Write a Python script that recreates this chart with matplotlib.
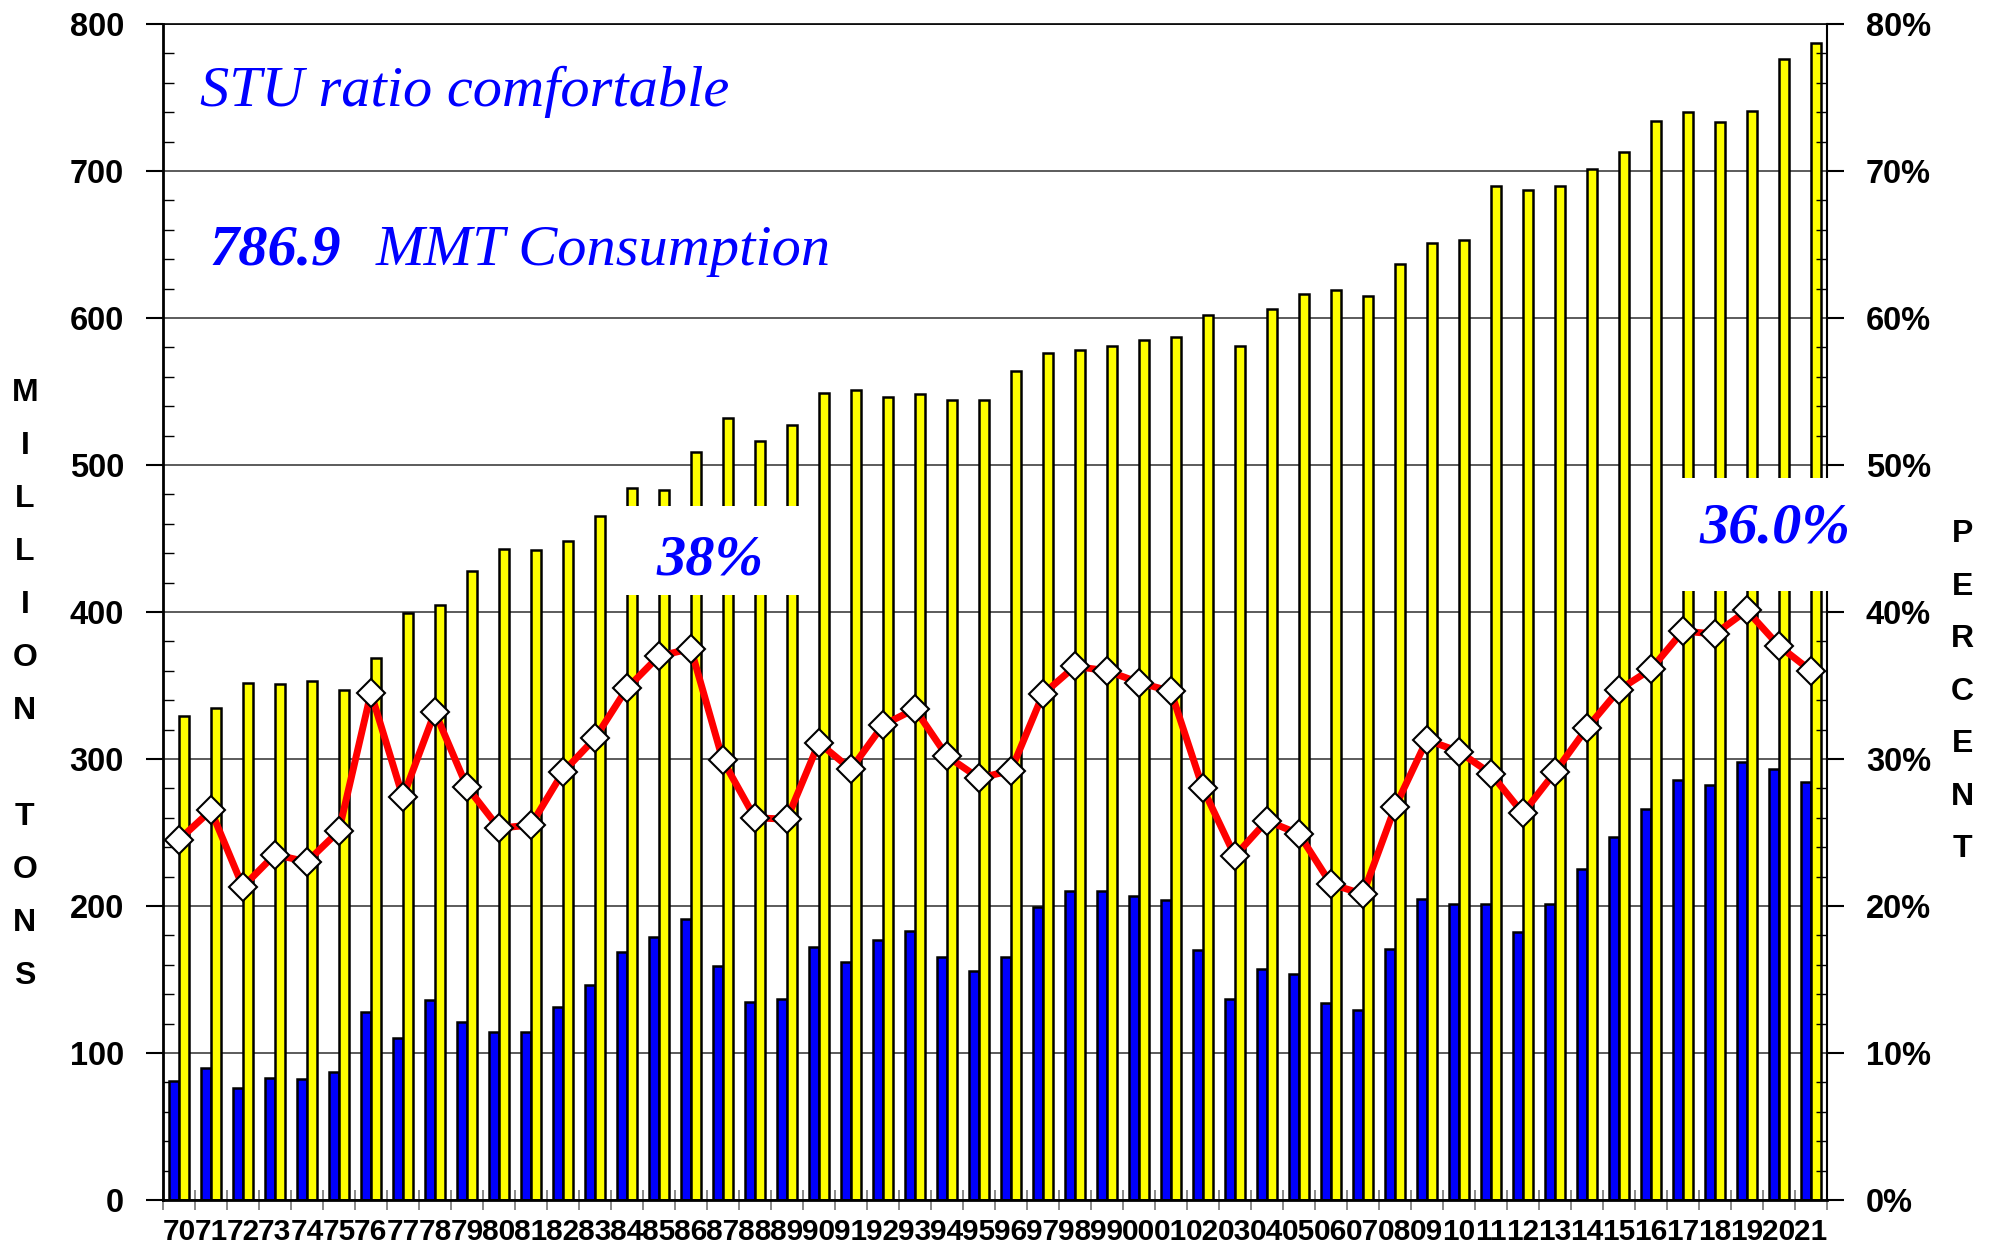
import numpy as np
import matplotlib
matplotlib.use('Agg')
import matplotlib.pyplot as plt
from matplotlib.patches import Rectangle
from matplotlib.ticker import MultipleLocator, FixedLocator, FuncFormatter

years = ['70', '71', '72', '73', '74', '75', '76', '77', '78', '79',
         '80', '81', '82', '83', '84', '85', '86', '87', '88', '89',
         '90', '91', '92', '93', '94', '95', '96', '97', '98', '99',
         '00', '01', '02', '03', '04', '05', '06', '07', '08', '09',
         '10', '11', '12', '13', '14', '15', '16', '17', '18', '19',
         '20', '21']

# ending stocks, million tons (blue)
stocks = [81, 90, 76, 83, 82, 87, 128, 110, 136, 121,
          114, 114, 131, 146, 169, 179, 191, 159, 135, 137,
          172, 162, 177, 183, 165, 156, 165, 199, 210, 210,
          207, 204, 170, 137, 157, 154, 134, 129, 171, 205,
          201, 201, 182, 201, 225, 247, 266, 286, 282, 298,
          293, 284]

# consumption, million tons (yellow)
consumption = [329, 335, 352, 351, 353, 347, 369, 399, 405, 428,
               443, 442, 448, 465, 484, 483, 509, 532, 516, 527,
               549, 551, 546, 548, 544, 544, 564, 576, 578, 581,
               585, 587, 602, 581, 606, 616, 619, 615, 637, 651,
               653, 690, 687, 690, 701, 713, 734, 740, 733, 741,
               776, 786.9]

# stocks-to-use ratio, percent (red line)
stu = [24.5, 26.5, 21.3, 23.5, 23.0, 25.1, 34.5, 27.4, 33.2, 28.1,
       25.3, 25.5, 29.1, 31.4, 34.8, 37.0, 37.5, 29.9, 26.0, 25.9,
       31.1, 29.3, 32.3, 33.4, 30.2, 28.7, 29.2, 34.4, 36.3, 36.0,
       35.2, 34.6, 28.0, 23.4, 25.8, 24.9, 21.5, 20.8, 26.7, 31.3,
       30.5, 29.0, 26.3, 29.1, 32.1, 34.7, 36.1, 38.7, 38.5, 40.1,
       37.7, 36.0]

tickfont = dict(family='Liberation Sans', weight='bold')

fig = plt.figure(figsize=(19.94, 12.54), dpi=100)
ax = fig.add_axes([0.0817, 0.0431, 0.8345, 0.9378])

x = np.arange(len(years))
ax.bar(x, stocks, width=-0.31, align='edge', color='#0000FF',
       edgecolor='black', linewidth=1.8, zorder=2)
ax.bar(x, consumption, width=0.31, align='edge', color='#FFFF00',
       edgecolor='black', linewidth=1.8, zorder=2)

ax.set_xlim(-0.5, len(years) - 0.5)
ax.set_ylim(0, 800)
ax.yaxis.set_major_locator(MultipleLocator(100))
ax.yaxis.set_minor_locator(MultipleLocator(20))
ax.tick_params(axis='y', which='major', direction='out', length=12,
               width=1.5, pad=16)
ax.tick_params(axis='y', which='minor', direction='in', length=8, width=1)
ax.grid(axis='y', which='major', color='#404040', linewidth=1.2)
ax.set_axisbelow(True)

ax.set_xticks(x)
ax.set_xticklabels(years)
ax.xaxis.set_minor_locator(FixedLocator(np.arange(-0.5, len(years), 1)))
ax.tick_params(axis='x', which='major', length=0, pad=13)
ax.tick_params(axis='x', which='minor', direction='inout', length=14,
               width=1.3, color='#808080')
for lab in ax.get_xticklabels():
    lab.set_fontproperties(tickfont)
    lab.set_fontsize(21.5)
for lab in ax.get_yticklabels():
    lab.set_fontproperties(tickfont)
    lab.set_fontsize(23.5)

for s in ['left', 'bottom']:
    ax.spines[s].set_linewidth(2)
ax.spines['top'].set_visible(False)
ax.spines['right'].set_visible(False)

ax2 = ax.twinx()
ax2.plot(x, stu, color='red', lw=5, marker='D', ms=14,
         mfc='white', mec='black', mew=1.5, zorder=3)
ax2.set_ylim(0, 80)
ax2.yaxis.set_major_locator(MultipleLocator(10))
ax2.yaxis.set_minor_locator(MultipleLocator(2))
ax2.yaxis.set_major_formatter(FuncFormatter(lambda v, p: '%d%%' % v))
ax2.tick_params(axis='y', which='major', direction='out', length=12,
                width=1.5, pad=16)
ax2.tick_params(axis='y', which='minor', direction='in', length=8, width=1)
for lab in ax2.get_yticklabels():
    lab.set_fontproperties(tickfont)
    lab.set_fontsize(23.5)
ax2.spines['right'].set_linewidth(1.5)
ax2.spines['left'].set_visible(False)
ax2.spines['bottom'].set_visible(False)
ax2.spines['top'].set_linewidth(1.2)

# axis titles, one letter per line
for k, ch in enumerate('MILLION TONS'):
    fig.text(0.0125, 0.687 - k * 0.0423, ch, ha='center', va='center',
             fontsize=23, **tickfont)
for k, ch in enumerate('PERCENT'):
    fig.text(0.984, 0.574 - k * 0.0419, ch, ha='center', va='center',
             fontsize=23, **tickfont)

serif = dict(family='Liberation Serif', style='italic', color='#0000FF')
fig.text(0.1003, 0.9155, 'STU ratio comfortable', fontsize=42,
         va='baseline', **serif)
fig.text(0.1053, 0.789, '786.9', fontsize=42, weight='bold',
         va='baseline', **serif)
fig.text(0.1886, 0.789, 'MMT Consumption', fontsize=42,
         va='baseline', **serif)

fig.add_artist(Rectangle((0.3124, 0.5255), 0.0883, 0.071,
                         transform=fig.transFigure, facecolor='white',
                         edgecolor='none', zorder=5))
fig.text(0.356, 0.5415, '38%', fontsize=42, weight='bold', ha='center',
         va='baseline', zorder=6, **serif)
fig.add_artist(Rectangle((0.8435, 0.5287), 0.0888, 0.0901,
                         transform=fig.transFigure, facecolor='white',
                         edgecolor='none', zorder=5))
fig.text(0.890, 0.567, '36.0%', fontsize=42, weight='bold', ha='center',
         va='baseline', zorder=6, **serif)

fig.savefig('out.png', dpi=100)
